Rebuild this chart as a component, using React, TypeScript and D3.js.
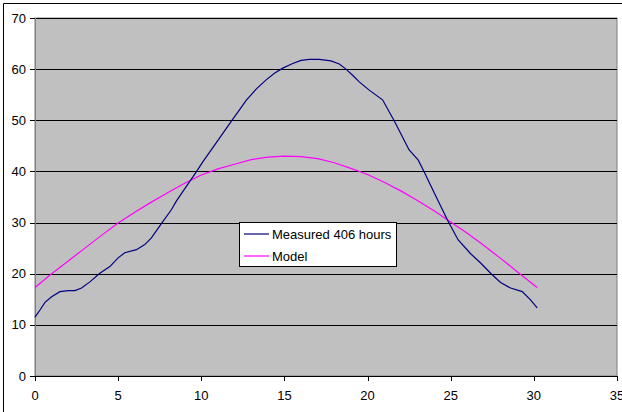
import React from "react";
import * as d3 from "d3";

const measuredX = [0,0.3,0.6,1.0,1.5,2.0,2.4,2.8,3.3,3.9,4.5,5.0,5.4,6.1,6.6,7.0,7.6,8.2,8.5,9.0,9.7,10.1,10.6,11.2,11.8,12.2,12.7,13.3,13.9,14.4,14.9,15.5,16.0,16.5,17.1,17.8,18.3,18.7,19.1,19.5,20.1,20.9,21.6,22.5,23.05,23.45,24.1,24.85,25.45,26.2,26.8,27.4,28.0,28.6,29.3,29.8,30.2];
const measuredY = [11.5,12.9,14.4,15.5,16.5,16.7,16.7,17.2,18.4,20.1,21.4,23.1,24.1,24.7,25.7,27.0,29.8,32.5,34.2,36.6,39.9,41.9,44.2,47.0,49.8,51.6,53.9,56.1,57.9,59.2,60.2,61.1,61.7,61.9,61.9,61.6,61.0,60.0,58.8,57.5,55.9,54.0,49.9,44.2,42.2,39.6,35.2,30.2,26.6,23.9,22.1,20.1,18.3,17.2,16.5,14.9,13.3];

const modelX = [0,1,2,3,4,5,6,7,8,9,10,11,12,13,14,15,16,17,18,19,20,21,22,23,24,25,26,27,28,29,30.2];
const modelY = [17.3,20.0,22.5,25.0,27.5,29.9,32.0,34.0,35.9,37.7,39.3,40.5,41.4,42.3,42.8,43.0,42.9,42.5,41.7,40.6,39.4,37.9,36.2,34.3,32.3,30.1,27.9,25.5,23.0,20.4,17.3];

const xTicks = [0,5,10,15,20,25,30,35];
const yTicks = [0,10,20,30,40,50,60,70];
const seriesNames = ["Measured 406 hours", "Model"];
const seriesColors = ["#000080", "#FF00FF"];

export default function App() {
  const W = 622, H = 412;
  const L = 35, R = 617, T = 18, B = 376;
  const x = d3.scaleLinear().domain([0, 35]).range([L, R]);
  const y = d3.scaleLinear().domain([0, 70]).range([B, T]);
  const line = d3.line<[number, number]>().x(d => x(d[0])).y(d => y(d[1]));
  const mData: [number, number][] = measuredX.map((v, i) => [v, measuredY[i]]);
  const oData: [number, number][] = modelX.map((v, i) => [v, modelY[i]]);
  const font = "Liberation Sans, Arial, sans-serif";
  return (
    <svg width={W} height={H} style={{ position: "fixed", left: 0, top: 0, background: "#fff" }} fontFamily={font}>
      <rect x={0} y={0} width={W} height={H} fill="#fff" />
      <line x1={3.5} y1={3.5} x2={W} y2={3.5} stroke="#000" />
      <line x1={3.5} y1={3.5} x2={3.5} y2={H} stroke="#000" />
      <rect x={L} y={T} width={R - L} height={B - T} fill="#C0C0C0" stroke="#808080" />
      {yTicks.filter(t => t > 0).map(t => (
        <line key={"g" + t} x1={L} x2={R} y1={Math.round(y(t)) + 0.5} y2={Math.round(y(t)) + 0.5} stroke="#000" />
      ))}
      <line x1={L + 0.5} x2={L + 0.5} y1={T} y2={B} stroke="#808080" />
      <line x1={L} x2={R} y1={Math.round(B) + 0.5} y2={Math.round(B) + 0.5} stroke="#000" />
      {yTicks.map(t => (
        <g key={"y" + t}>
          <line x1={L - 5} x2={L} y1={Math.round(y(t)) + 0.5} y2={Math.round(y(t)) + 0.5} stroke="#000" />
          <text x={26} y={y(t)} dy="0.35em" textAnchor="end" fontSize={13} fill="#000">{t}</text>
        </g>
      ))}
      {xTicks.map(t => (
        <g key={"x" + t}>
          <line x1={Math.round(x(t)) + 0.5} x2={Math.round(x(t)) + 0.5} y1={B} y2={B + 5} stroke="#000" />
          <text x={x(t)} y={400} textAnchor="middle" fontSize={13} fill="#000">{t}</text>
        </g>
      ))}
      <path d={line(oData) || ""} fill="none" stroke={seriesColors[1]} strokeWidth={1.2} />
      <path d={line(mData) || ""} fill="none" stroke={seriesColors[0]} strokeWidth={1.2} />
      <rect x={239.5} y={222.5} width={157} height={44} fill="#fff" stroke="#000" />
      {seriesNames.map((n, i) => (
        <g key={n}>
          <line x1={244} x2={269} y1={234 + i * 22} y2={234 + i * 22} stroke={seriesColors[i]} strokeWidth={1.2} />
          <text x={272} y={234 + i * 22} dy="0.35em" fontSize={13} fill="#000">{n}</text>
        </g>
      ))}
    </svg>
  );
}
